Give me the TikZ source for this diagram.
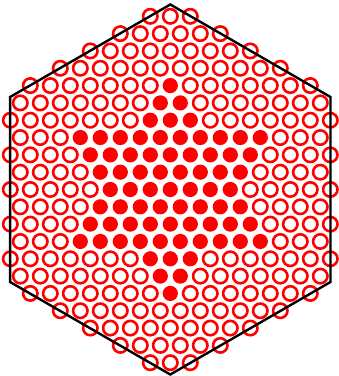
\documentclass[tikz,border=0pt]{standalone}
\begin{document}
\begin{tikzpicture}[x=1pt,y=1pt]

\tikzstyle{HOLE} = [draw=red, line width=2.6pt, fill=white]
\tikzstyle{PIN} = [fill=red]
\tikzstyle{HEX} = [draw=black, line width=2.4pt, line join=miter]

\useasboundingbox (-170.3,-186.5) rectangle (168.7,189.5);

% triangular lattice, rows r (top = -10), columns m (step 10pt)
\foreach \r in {-10,...,10} {
  \foreach \m in {-16,...,16} {
    \pgfmathtruncatemacro{\ok}{and(mod(abs(\m+\r),2)==0, and(abs(\m)<=16, abs(\m)+3*abs(\r)<=32))}
    \pgfmathtruncatemacro{\pin}{or(and(\r>=-6, and(\r<=3, abs(\m)<=\r+6)), and(\r>=-3, and(\r<=6, abs(\m)<=6-\r)))}
    \pgfmathsetmacro{\xx}{10*\m}
    \pgfmathsetmacro{\yy}{-17.32*\r}
    \ifnum\ok=1
      \ifnum\pin=1
        \fill[PIN] (\xx,\yy) circle (7.6pt);
      \else
        \draw[HOLE] (\xx,\yy) circle (7.2pt);
      \fi
    \fi
  }
}

\draw[HEX] (90:185pt) -- (150:185pt) -- (210:185pt) -- (270:185pt) -- (330:185pt) -- (30:185pt) -- cycle;

\end{tikzpicture}
\end{document}
